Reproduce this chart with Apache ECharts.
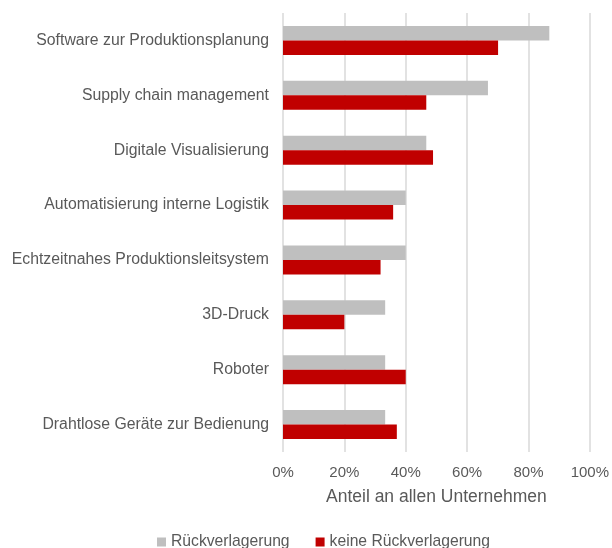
<!DOCTYPE html>
<html><head><meta charset="utf-8">
<script src="https://cdn.jsdelivr.net/npm/echarts@6/dist/echarts.min.js"></script>
<style>html,body{margin:0;padding:0;background:#fff}#c{width:612px;height:548px}</style>
</head><body><div id="c"></div>
<script>
const categories = ["Software zur Produktionsplanung","Supply chain management","Digitale Visualisierung","Automatisierung interne Logistik","Echtzeitnahes Produktionsleitsystem","3D-Druck","Roboter","Drahtlose Geräte zur Bedienung"];
const rueckverlagerung = [86.8, 66.8, 46.7, 40.0, 40.0, 33.3, 33.3, 33.3];
const keineRueckverlagerung = [70.1, 46.7, 48.9, 35.9, 31.8, 20.0, 40.0, 37.1];
const seriesNames = ["Rückverlagerung", "keine Rückverlagerung"];
const xTicks = [0, 20, 40, 60, 80, 100];

const chart = echarts.init(document.getElementById('c'), null, {renderer:'canvas'});
const font = 'Liberation Sans, Arial, sans-serif';
chart.setOption({
  animation:false,
  textStyle:{fontFamily:font},
  grid:{left:283, right:19, top:13, bottom:96, containLabel:false},
  legend:{bottom:-7, left:152, itemWidth:9, itemHeight:9, itemGap:26, icon:'rect',
    textStyle:{fontSize:15.7, color:'#595959', fontFamily:font},
    data:seriesNames},
  xAxis:{type:'value', min:xTicks[0], max:xTicks[xTicks.length-1], interval:20,
    axisLabel:{formatter:'{value}%', fontSize:15, color:'#595959', margin:13, fontFamily:font},
    axisLine:{show:false}, axisTick:{show:false},
    splitLine:{lineStyle:{color:'#d9d9d9', width:1.5}},
    name:'Anteil an allen Unternehmen', nameLocation:'middle', nameGap:36,
    nameTextStyle:{fontSize:17.5, color:'#595959', fontFamily:font}},
  yAxis:{type:'category', data:categories, inverse:true,
    axisLine:{show:false}, axisTick:{show:false},
    axisLabel:{fontSize:15.8, color:'#595959', margin:14, fontFamily:font, padding:[3,0,0,0]}},
  series:[
    {name:seriesNames[0], type:'bar', data:rueckverlagerung, barWidth:14.5, barGap:'0%', itemStyle:{color:'#bfbfbf'}},
    {name:seriesNames[1], type:'bar', data:keineRueckverlagerung, barWidth:14.5, barGap:'0%', itemStyle:{color:'#c00000'}}
  ]
});
</script></body></html>
